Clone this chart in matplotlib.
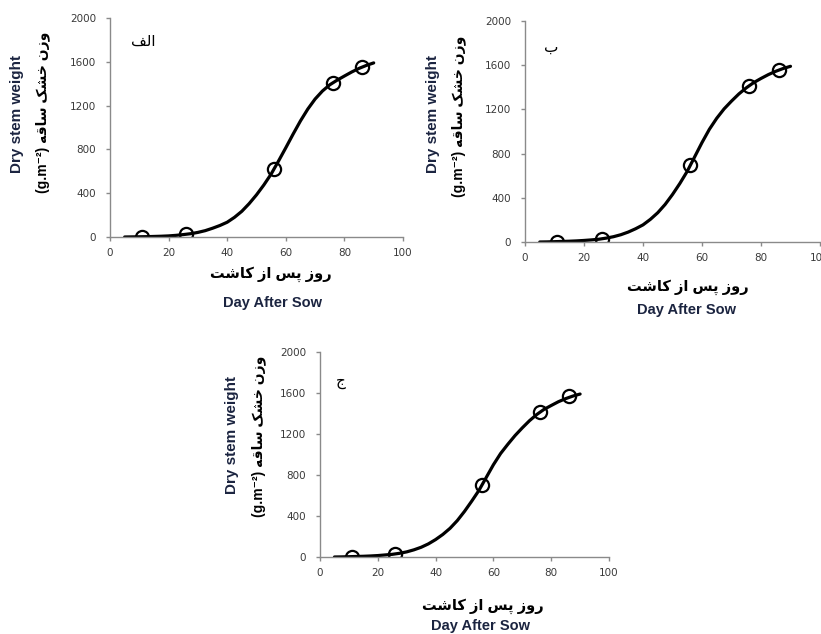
#!/usr/bin/env python
import numpy as np
import matplotlib
matplotlib.use("Agg")
import matplotlib.pyplot as plt

# Sampling days and measured dry stem weight (g.m-2)
days = [11, 26, 56, 76, 86]
weight_a = [0, 27, 625, 1405, 1550]
weight_b = [0, 27, 694, 1415, 1557]
weight_c = [0, 32, 700, 1415, 1570]

# Fitted growth curve, read every 2.5 days from day 5 to day 90
curve_days = [5, 7.5, 10, 12.5, 15, 17.5, 20, 22.5, 25, 27.5, 30, 32.5, 35, 37.5,
              40, 42.5, 45, 47.5, 50, 52.5, 55, 57.5, 60, 62.5, 65, 67.5, 70, 72.5,
              75, 77.5, 80, 82.5, 85, 87.5, 90]
curve_a = [0, 1, 2, 3, 5, 7, 10, 15, 22, 30, 42, 58, 80, 105,
           135, 180, 235, 305, 385, 475, 575, 693, 815, 940, 1060, 1168, 1260, 1333,
           1390, 1432, 1470, 1507, 1540, 1567, 1590]
curve_b = [0, 1, 3, 5, 7, 10, 14, 19, 25, 35, 48, 66, 90, 120,
           155, 205, 265, 340, 430, 530, 640, 770, 900, 1020, 1120, 1205, 1275, 1340,
           1395, 1442, 1480, 1515, 1545, 1570, 1590]
curve_c = [0, 1, 3, 5, 7, 10, 14, 20, 26, 36, 50, 70, 95, 128,
           170, 220, 280, 355, 445, 545, 650, 775, 900, 1010, 1100, 1185, 1260, 1330,
           1390, 1440, 1478, 1515, 1545, 1570, 1590]

x_ticks = [0, 20, 40, 60, 80, 100]
y_ticks = [0, 400, 800, 1200, 1600, 2000]

# Persian strings, pre-shaped (presentation forms) in visual order
panel_tags = ["\ufed2\ufedf\ufe8d", "\ufe8f", "\ufe9d"]            # الف / ب / ج
xlabel_fa = "\ufe96\ufeb7\ufe8e\ufb90 \ufeaf\ufe8d \ufeb2\ufb58 \ufeaf\ufeed\ufead"   # روز پس از کاشت
ylabel_fa = "\ufeea\ufed7\ufe8e\ufeb3 \ufb8f\ufeb8\ufea7 \ufee5\ufeaf\ufeed"          # وزن خشک ساقه

W, H = 821, 634
fig = plt.figure(figsize=(W / 100, H / 100), dpi=100)

navy = "#1b2440"
grey = "#8a8a8a"
fam = ["Liberation Sans", "DejaVu Sans"]

# left, top, right, bottom of each plot area in pixels, plus label anchors
panels = [
    dict(box=(110, 18, 403, 237), pts=weight_a, curve=curve_a, tag=(143, 42),
         xl=(271, 274), xe=(272, 303), yl=(17, 114), ye=(43, 112)),
    dict(box=(525, 21, 820, 242), pts=weight_b, curve=curve_b, tag=(551, 48),
         xl=(688, 287), xe=(686, 310), yl=(433, 114), ye=(459, 116)),
    dict(box=(320, 352, 609, 557), pts=weight_c, curve=curve_c, tag=(341, 382),
         xl=(483, 606), xe=(480, 626), yl=(232, 435), ye=(259, 436)),
]

for p, tag in zip(panels, panel_tags):
    l, t, r, b = p["box"]
    ax = fig.add_axes([l / W, 1 - b / H, (r - l) / W, (b - t) / H])

    ax.plot(curve_days, p["curve"], color="black", lw=2.3,
            solid_capstyle="round", solid_joinstyle="round")
    ax.plot(days, p["pts"], "o", mfc="none", mec="black", ms=9.5, mew=1.6)

    ax.set_xlim(0, 100)
    ax.set_ylim(0, 2000)
    ax.set_xticks(x_ticks)
    ax.set_yticks(y_ticks)
    ax.spines["top"].set_visible(False)
    ax.spines["right"].set_visible(False)
    for s in ("left", "bottom"):
        ax.spines[s].set_color(grey)
        ax.spines[s].set_linewidth(1.0)
    ax.tick_params(axis="x", direction="out", length=3, width=1, color=grey,
                   labelsize=7.5, labelcolor="#3a3a3a", pad=5)
    ax.tick_params(axis="y", direction="out", length=3, width=1, color=grey,
                   labelsize=7.5, labelcolor="#3a3a3a", pad=7)
    for lab in ax.get_xticklabels() + ax.get_yticklabels():
        lab.set_family("DejaVu Sans")
    ax.patch.set_alpha(0)

    fig.text(p["tag"][0] / W, 1 - p["tag"][1] / H, tag, family=fam,
             fontsize=11, ha="center", va="center")
    fig.text(p["xl"][0] / W, 1 - p["xl"][1] / H, xlabel_fa, family=fam,
             fontsize=10.5, fontweight="bold", ha="center", va="center")
    fig.text(p["xe"][0] / W, 1 - p["xe"][1] / H, "Day After Sow", family=fam,
             fontsize=10.5, fontweight="bold", color=navy, ha="center", va="center")
    fig.text(p["yl"][0] / W, 1 - p["yl"][1] / H, "Dry stem weight", family=fam,
             fontsize=11, fontweight="bold", color=navy, rotation=90,
             ha="center", va="center")
    fig.text(p["ye"][0] / W, 1 - p["ye"][1] / H, "(g.m\u207b\u00b2) " + ylabel_fa,
             family=fam, fontsize=10, fontweight="bold", rotation=90,
             ha="center", va="center")

fig.savefig("out.png", dpi=100, facecolor="white")
